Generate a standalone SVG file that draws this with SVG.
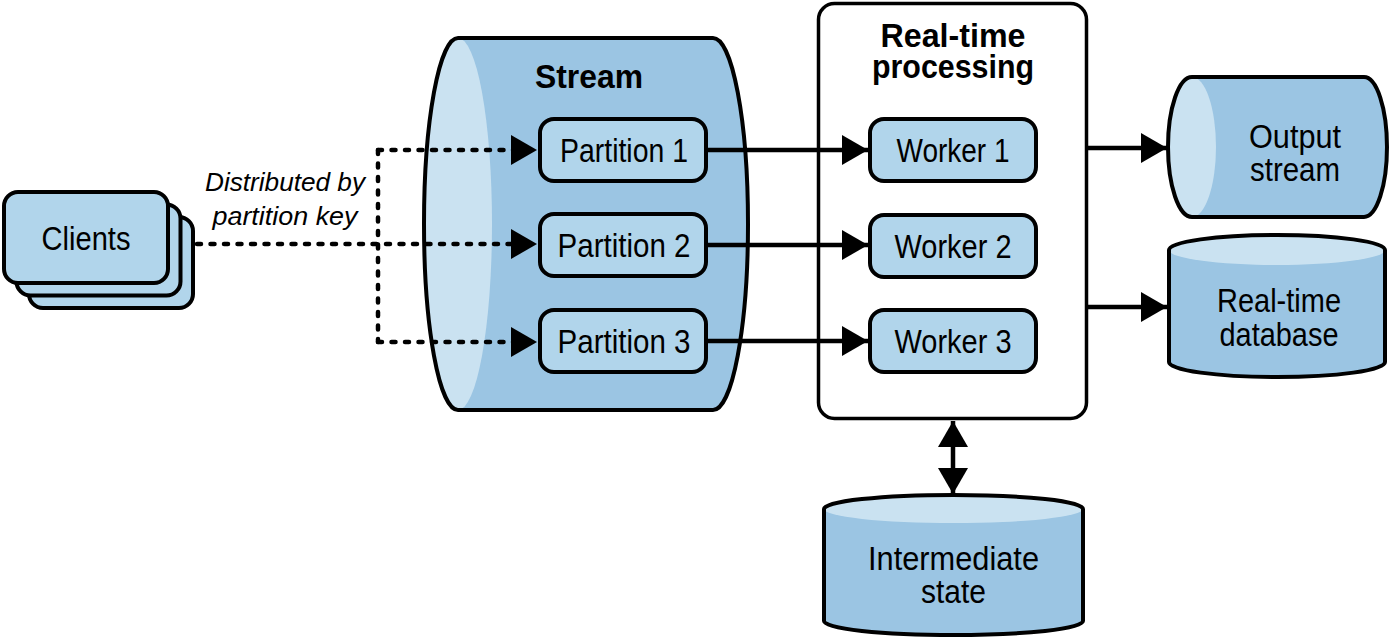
<svg xmlns="http://www.w3.org/2000/svg" width="1391" height="640" viewBox="0 0 1391 640">
<defs>
<style>
.box{fill:#b1d5eb;stroke:#000;stroke-width:4}
.body{fill:#9bc5e3;stroke:none}
.face{fill:#cae2f1;stroke:none}
.outline{fill:none;stroke:#000;stroke-width:4}
.lbl{font-family:"Liberation Sans Narrow","Liberation Sans",Arial,sans-serif;font-size:33px;fill:#000;text-anchor:middle}
.ttl{font-family:"Liberation Sans Narrow","Liberation Sans",Arial,sans-serif;font-size:34px;font-weight:bold;fill:#000;text-anchor:middle}
.it{font-family:"Liberation Sans Narrow","Liberation Sans",Arial,sans-serif;font-size:26px;font-style:italic;fill:#000;text-anchor:middle}
.solid{fill:none;stroke:#000;stroke-width:4.5}
.dot{fill:none;stroke:#000;stroke-width:4.5;stroke-dasharray:4 9.5;stroke-linecap:round}
</style>
<marker id="ah" markerUnits="userSpaceOnUse" markerWidth="26" markerHeight="30" refX="26" refY="15" orient="auto-start-reverse" viewBox="0 0 26 30">
<path d="M0,0 L26,15 L0,30 Z" fill="#000"/>
</marker>
</defs>

<g id="clients">
<rect class="box" x="29" y="217" width="164" height="91" rx="14"/>
<rect class="box" x="16.5" y="204.5" width="164" height="91" rx="14"/>
<rect class="box" x="4" y="192" width="164" height="91" rx="14"/>
<text class="lbl" x="86" y="250" textLength="89" lengthAdjust="spacingAndGlyphs">Clients</text>
</g>

<g id="dist-label">
<text class="it" x="285" y="191" textLength="160" lengthAdjust="spacingAndGlyphs">Distributed by</text>
<text class="it" x="285" y="225" textLength="145" lengthAdjust="spacingAndGlyphs">partition key</text>
</g>

<g id="stream">
<path class="body" d="M458,38 H713 A35,186 0 0 1 713,410 H458 A34,186 0 0 1 458,38 Z"/>
<ellipse class="face" cx="458" cy="224" rx="34" ry="186"/>
<path class="outline" d="M458,38 H713 A35,186 0 0 1 713,410 H458 A34,186 0 0 1 458,38 Z"/>
<text class="ttl" x="589" y="88" textLength="108" lengthAdjust="spacingAndGlyphs">Stream</text>
</g>

<g id="partition1">
<rect class="box" x="540" y="119" width="166" height="62" rx="14"/>
<text class="lbl" x="624" y="162" textLength="128" lengthAdjust="spacingAndGlyphs">Partition 1</text>
</g>
<g id="partition2">
<rect class="box" x="540" y="214" width="166" height="62" rx="14"/>
<text class="lbl" x="624" y="257" textLength="133" lengthAdjust="spacingAndGlyphs">Partition 2</text>
</g>
<g id="partition3">
<rect class="box" x="540" y="310" width="166" height="62" rx="14"/>
<text class="lbl" x="624" y="353" textLength="133" lengthAdjust="spacingAndGlyphs">Partition 3</text>
</g>

<g id="processing">
<rect x="818.5" y="3.5" width="268" height="415" rx="16" fill="#fff" stroke="#000" stroke-width="3.5"/>
<text class="ttl" x="953" y="47" textLength="145" lengthAdjust="spacingAndGlyphs">Real-time</text>
<text class="ttl" x="953" y="78" textLength="162" lengthAdjust="spacingAndGlyphs">processing</text>
</g>

<g id="worker1">
<rect class="box" x="870" y="119" width="166" height="62" rx="14"/>
<text class="lbl" x="953" y="162" textLength="113" lengthAdjust="spacingAndGlyphs">Worker 1</text>
</g>
<g id="worker2">
<rect class="box" x="870" y="215" width="166" height="62" rx="14"/>
<text class="lbl" x="953" y="258" textLength="117" lengthAdjust="spacingAndGlyphs">Worker 2</text>
</g>
<g id="worker3">
<rect class="box" x="870" y="310" width="166" height="62" rx="14"/>
<text class="lbl" x="953" y="353" textLength="117" lengthAdjust="spacingAndGlyphs">Worker 3</text>
</g>

<g id="output-stream">
<path class="body" d="M1192,77 H1364 A23,70 0 0 1 1364,217 H1192 A24,70 0 0 1 1192,77 Z"/>
<ellipse class="face" cx="1192" cy="147" rx="24" ry="70"/>
<path class="outline" d="M1192,77 H1364 A23,70 0 0 1 1364,217 H1192 A24,70 0 0 1 1192,77 Z"/>
<text class="lbl" x="1295" y="148" textLength="92" lengthAdjust="spacingAndGlyphs">Output</text>
<text class="lbl" x="1295" y="181" textLength="90" lengthAdjust="spacingAndGlyphs">stream</text>
</g>

<g id="realtime-db">
<path class="body" d="M1169,250 A108,15 0 0 1 1385,250 V362 A108,15 0 0 1 1169,362 Z"/>
<ellipse class="face" cx="1277" cy="250" rx="108" ry="15"/>
<path class="outline" d="M1169,250 A108,15 0 0 1 1385,250 V362 A108,15 0 0 1 1169,362 Z"/>
<text class="lbl" x="1279" y="312" textLength="124" lengthAdjust="spacingAndGlyphs">Real-time</text>
<text class="lbl" x="1279" y="346" textLength="119" lengthAdjust="spacingAndGlyphs">database</text>
</g>

<g id="intermediate-state">
<path class="body" d="M824,509 A129.5,14 0 0 1 1083,509 V621 A129.5,14 0 0 1 824,621 Z"/>
<ellipse class="face" cx="953.5" cy="509" rx="129.5" ry="14"/>
<path class="outline" d="M824,509 A129.5,14 0 0 1 1083,509 V621 A129.5,14 0 0 1 824,621 Z"/>
<text class="lbl" x="953.5" y="570" textLength="171" lengthAdjust="spacingAndGlyphs">Intermediate</text>
<text class="lbl" x="953.5" y="603" textLength="65" lengthAdjust="spacingAndGlyphs">state</text>
</g>

<g id="connectors">
<path class="dot" d="M197,244 H518"/>
<path class="dot" d="M378,150 V342"/>
<path class="dot" d="M378,150 H518"/>
<path class="dot" d="M378,342 H518"/>
<path d="M512,244 H537" fill="none" stroke="none" marker-end="url(#ah)"/>
<path d="M512,150 H537" fill="none" stroke="none" marker-end="url(#ah)"/>
<path d="M512,342 H537" fill="none" stroke="none" marker-end="url(#ah)"/>
<path class="solid" d="M708,150 H868" marker-end="url(#ah)"/>
<path class="solid" d="M708,245 H868" marker-end="url(#ah)"/>
<path class="solid" d="M708,341 H868" marker-end="url(#ah)"/>
<path class="solid" d="M1088,148 H1167" marker-end="url(#ah)"/>
<path class="solid" d="M1088,307 H1167" marker-end="url(#ah)"/>
<path class="solid" d="M953,421 V494" marker-start="url(#ah)" marker-end="url(#ah)"/>
</g>
</svg>
